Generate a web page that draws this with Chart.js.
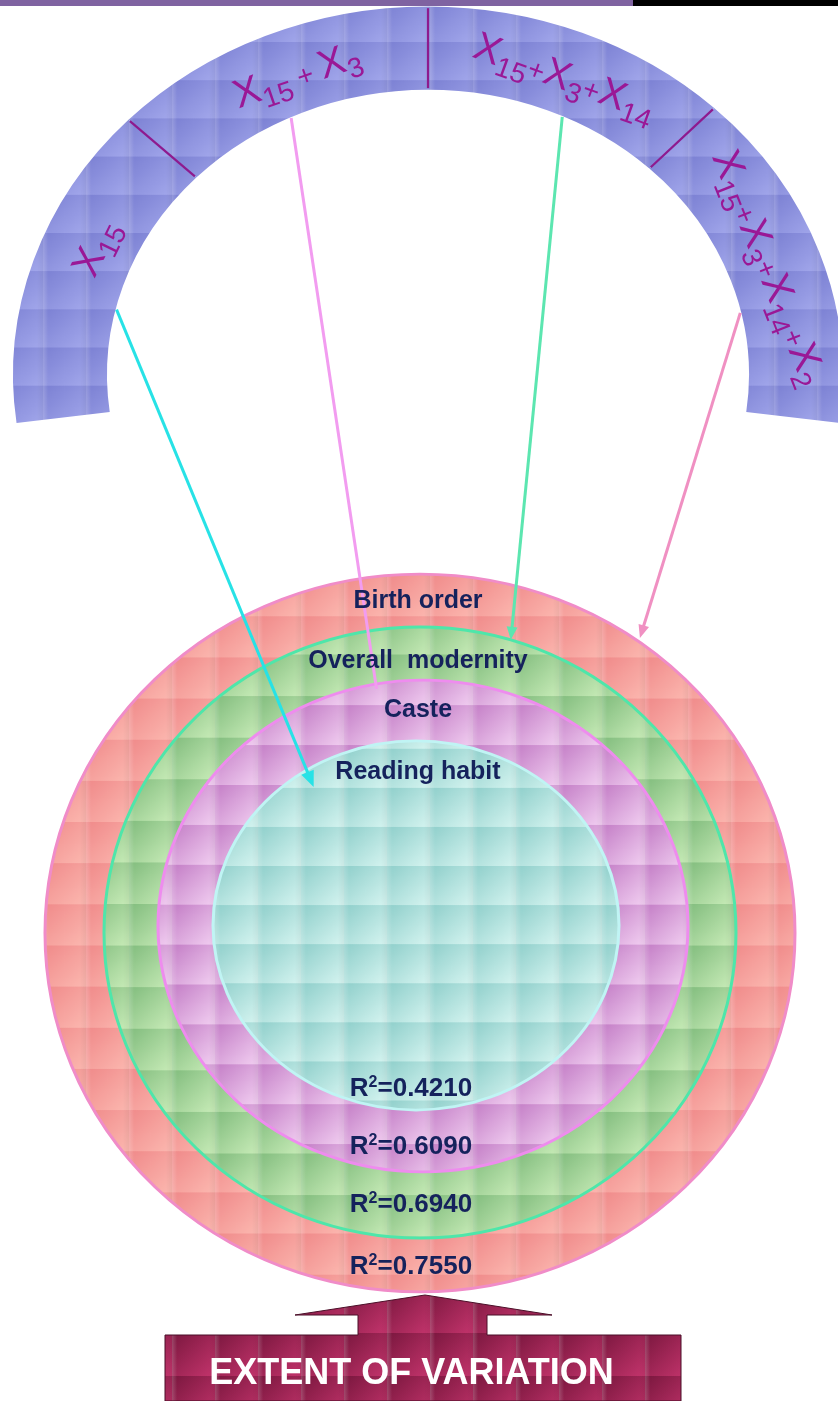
<!DOCTYPE html>
<html>
<head>
<meta charset="utf-8">
<script src="https://cdn.jsdelivr.net/npm/chart.js@4.4.1/dist/chart.umd.min.js"></script>
<style>
  html, body { margin: 0; padding: 0; background: #fff; overflow: hidden; }
  #wrap { position: relative; width: 838px; height: 1401px; }
  #arcChart, #ringChart { position: absolute; left: 0; top: 0; }
  #ringChart { z-index: 2; }
  .strip { position: absolute; top: 0; height: 6px; z-index: 3; }
</style>
</head>
<body>
<div id="wrap">
  <div class="strip" style="left:0;width:633px;background:#7f63a1"></div>
  <div class="strip" style="left:633px;width:205px;background:#000"></div>
  <canvas id="arcChart" width="838" height="450"></canvas>
  <canvas id="ringChart" width="838" height="1401"></canvas>
</div>
<script>
// models shown on the arc, and how many degrees of the arc each one takes
const arcLabels = ['X_{15}', 'X_{15} + X_{3}', 'X_{15}+X_{3}+X_{14}', 'X_{15}+X_{3}+X_{14}+X_{2}'];
const arcSpanDeg = [51.3, 46.2, 43.6, 53.9];

// nested variables and the R² reached at each step
const ringLabels = ['Reading habit', 'Caste', 'Overall  modernity', 'Birth order'];
const ringR2 = [0.4210, 0.6090, 0.6940, 0.7550];
const axisTitle = 'EXTENT OF VARIATION';

// layout only
const ARC = {
  rotation: -97.5, circumference: 195, radius: 415, cutout: '77.35%', squash: 0.888,
  labelPos: 0.42, labelAt: [0.6, 0.54, 0.51, 0.5]
};
const RING = {
  cx: [416, 423, 420, 420],
  cy: [925.5, 926, 932.5, 933],
  rx: [203, 265, 316, 375],
  squash: [0.909, 0.928, 0.967, 0.957],
  nameDy: [31, 30.5, 34, 27],
  r2Dy: [23, 27, 35, 27],
  nameX: 418,
  r2X: 411
};
const LINKS = {
  from: [0.405, 0.452, 0.569, 0.627],
  toAngle: [-33.9, -10.3, 16.7, 35.5],
  toFrac: [0.904, 0.98, 1.0, 1.01],
  color: ['#27e2e6', '#f29cf0', '#5ce6b0', '#f090c2'],
  head: [16, 0, 13, 13]
};
const FONT = '"Liberation Sans", Arial, sans-serif';
const NAVY = '#15225c';

function tile(dark, light) {
  const s = 43;
  const c = document.createElement('canvas');
  c.width = s; c.height = s;
  const g = c.getContext('2d');
  let gr = g.createLinearGradient(0, 0, s, s);
  gr.addColorStop(0, dark);
  gr.addColorStop(1, light);
  g.fillStyle = gr;
  g.fillRect(0, 0, s, s);
  gr = g.createLinearGradient(0, 0, s, 0);
  gr.addColorStop(0, 'rgba(255,255,255,0.2)');
  gr.addColorStop(0.12, 'rgba(255,255,255,0)');
  gr.addColorStop(0.85, 'rgba(0,0,0,0)');
  gr.addColorStop(1, 'rgba(0,0,0,0.05)');
  g.fillStyle = gr;
  g.fillRect(0, 0, s, s);
  return g.createPattern(c, 'repeat');
}

const arcFill = tile('#7b80d3', '#a3a8ec');
const ringFill = [
  tile('#8fcfcb', '#d6f5f1'),
  tile('#c47ec7', '#f2cff2'),
  tile('#82bd7e', '#c8ecb8'),
  tile('#f08a8a', '#fcb8b0')
];
const ringBorder = ['#c0f4f4', '#ee8cee', '#4ee6aa', '#f08cc8'];
const arrowFill = tile('#7a173e', '#c3346c');

function parseRich(str) {
  const parts = [];
  const re = /_\{([^}]*)\}/g;
  let last = 0, m;
  while ((m = re.exec(str))) {
    if (m.index > last) parts.push({ t: str.slice(last, m.index), sub: false });
    parts.push({ t: m[1], sub: true });
    last = re.lastIndex;
  }
  if (last < str.length) parts.push({ t: str.slice(last), sub: false });
  // split plain runs so letters are big and signs are small
  const out = [];
  parts.forEach(p => {
    if (p.sub) { out.push(p); return; }
    for (const ch of p.t) out.push({ t: ch, sub: false, big: /[A-Za-z]/.test(ch) });
  });
  return out;
}

function drawRich(ctx, str, x, y, rot) {
  const parts = parseRich(str);
  const fontOf = p => (p.big ? '40px ' : '28px ') + FONT;
  let w = 0;
  parts.forEach(p => { ctx.font = fontOf(p); p.w = ctx.measureText(p.t).width; w += p.w; });
  ctx.save();
  ctx.translate(x, y);
  ctx.rotate(rot);
  ctx.fillStyle = '#9a1896';
  ctx.textBaseline = 'alphabetic';
  ctx.textAlign = 'left';
  let cx = -w / 2;
  parts.forEach(p => {
    ctx.font = fontOf(p);
    ctx.fillText(p.t, cx, p.sub ? 20 : 11);
    cx += p.w;
  });
  ctx.restore();
}

function onArc(el, angle, r) {
  return [el.x + r * Math.cos(angle), el.y + ARC.squash * r * Math.sin(angle)];
}

const arcDeco = {
  id: 'arcDeco',
  beforeDatasetsDraw(chart) {
    const el = chart.getDatasetMeta(0).data[0];
    const ctx = chart.ctx;
    ctx.save();
    ctx.translate(el.x, el.y);
    ctx.scale(1, ARC.squash);
    ctx.translate(-el.x, -el.y);
  },
  afterDatasetsDraw(chart) {
    const ctx = chart.ctx;
    ctx.restore();
    const arcs = chart.getDatasetMeta(0).data;
    ctx.save();
    ctx.strokeStyle = '#8e1a8e';
    ctx.lineWidth = 2.2;
    for (let i = 1; i < arcs.length; i++) {
      const a = arcs[i].startAngle;
      const p1 = onArc(arcs[i], a, arcs[i].innerRadius + 2);
      const p2 = onArc(arcs[i], a, arcs[i].outerRadius - 2);
      ctx.beginPath();
      ctx.moveTo(p1[0], p1[1]);
      ctx.lineTo(p2[0], p2[1]);
      ctx.stroke();
    }
    arcs.forEach((el, i) => {
      const a = el.startAngle + ARC.labelAt[i] * (el.endAngle - el.startAngle);
      const r = el.innerRadius + ARC.labelPos * (el.outerRadius - el.innerRadius);
      const p = onArc(el, a, r);
      const rot = Math.atan2(ARC.squash * Math.cos(a), -Math.sin(a));
      drawRich(ctx, arcLabels[i], p[0], p[1], rot);
    });
    ctx.restore();
  }
};

const arcChart = new Chart(document.getElementById('arcChart').getContext('2d'), {
  type: 'doughnut',
  data: {
    labels: arcLabels,
    datasets: [{
      data: arcSpanDeg,
      backgroundColor: arcFill,
      borderWidth: 0
    }]
  },
  options: {
    responsive: false,
    animation: false,
    events: [],
    rotation: ARC.rotation,
    circumference: ARC.circumference,
    radius: ARC.radius,
    cutout: ARC.cutout,
    layout: { padding: { left: 18, right: 0, top: 0, bottom: 61 } },
    plugins: { legend: { display: false }, tooltip: { enabled: false } }
  },
  plugins: [arcDeco]
});

function drawArrow(ctx, x1, y1, x2, y2, color, head) {
  const ang = Math.atan2(y2 - y1, x2 - x1);
  ctx.strokeStyle = color;
  ctx.fillStyle = color;
  ctx.lineWidth = 3;
  ctx.beginPath();
  ctx.moveTo(x1, y1);
  ctx.lineTo(x2 - Math.cos(ang) * head * 0.7, y2 - Math.sin(ang) * head * 0.7);
  ctx.stroke();
  if (head) {
    const bx = x2 - Math.cos(ang) * head, by = y2 - Math.sin(ang) * head;
    const nx = -Math.sin(ang) * head * 0.42, ny = Math.cos(ang) * head * 0.42;
    ctx.beginPath();
    ctx.moveTo(x2, y2);
    ctx.lineTo(bx + nx, by + ny);
    ctx.lineTo(bx - nx, by - ny);
    ctx.closePath();
    ctx.fill();
  }
}

const ringDeco = {
  id: 'ringDeco',
  beforeDatasetDraw(chart, args) {
    const el = args.meta.data[0];
    const ctx = chart.ctx;
    ctx.save();
    ctx.translate(el.x, el.y);
    ctx.scale(1, RING.squash[args.index]);
    ctx.translate(-el.x, -el.y);
  },
  afterDatasetDraw(chart) {
    chart.ctx.restore();
  },
  afterDatasetsDraw(chart) {
    const ctx = chart.ctx;
    const xs = chart.scales.x, ys = chart.scales.y;
    const px = v => xs.getPixelForValue(v);
    const py = v => ys.getPixelForValue(v);
    const arcs = arcChart.getDatasetMeta(0).data;
    ctx.save();

    // links from the arc models to the nested variables
    ringLabels.forEach((_, i) => {
      const arc = arcs[i];
      const a = arc.startAngle + LINKS.from[i] * (arc.endAngle - arc.startAngle);
      const s = onArc(arc, a, arc.innerRadius - 1);
      const el = chart.getDatasetMeta(i).data[0];
      const t = LINKS.toAngle[i] * Math.PI / 180;
      const r = el.options.radius * LINKS.toFrac[i];
      const ex = el.x + r * Math.sin(t);
      const ey = el.y - r * RING.squash[i] * Math.cos(t);
      drawArrow(ctx, s[0], s[1], ex, ey, LINKS.color[i], LINKS.head[i]);
    });

    // variable names at the top of each ring, R² at the bottom
    ctx.fillStyle = NAVY;
    ctx.textAlign = 'center';
    ctx.textBaseline = 'middle';
    ringLabels.forEach((name, i) => {
      const el = chart.getDatasetMeta(i).data[0];
      const ry = el.options.radius * RING.squash[i];
      ctx.font = 'bold 25px ' + FONT;
      ctx.textAlign = 'center';
      ctx.fillText(name, px(RING.nameX), el.y - ry + RING.nameDy[i]);

      const yb = el.y + ry - RING.r2Dy[i] + 9;
      const tail = '=' + ringR2[i].toFixed(4);
      ctx.font = 'bold 26px ' + FONT;
      const wR = ctx.measureText('R').width, wT = ctx.measureText(tail).width;
      ctx.font = 'bold 16px ' + FONT;
      const w2 = ctx.measureText('2').width;
      let x0 = px(RING.r2X) - (wR + w2 + wT) / 2;
      ctx.textAlign = 'left';
      ctx.textBaseline = 'alphabetic';
      ctx.font = 'bold 26px ' + FONT;
      ctx.fillText('R', x0, yb);
      ctx.font = 'bold 16px ' + FONT;
      ctx.fillText('2', x0 + wR, yb - 9);
      ctx.font = 'bold 26px ' + FONT;
      ctx.fillText(tail, x0 + wR + w2, yb);
      ctx.textBaseline = 'middle';
    });

    // big arrow with the axis title
    const shape = [[165, 1335], [358, 1335], [358, 1315], [295, 1315], [425, 1295], [552, 1315],
      [487, 1315], [487, 1335], [681, 1335], [681, 1401], [165, 1401]];
    ctx.beginPath();
    shape.forEach((p, k) => k ? ctx.lineTo(px(p[0]), py(p[1])) : ctx.moveTo(px(p[0]), py(p[1])));
    ctx.closePath();
    ctx.fillStyle = arrowFill;
    ctx.fill();
    ctx.strokeStyle = '#4a0f28';
    ctx.lineWidth = 1;
    ctx.stroke();
    ctx.fillStyle = '#ffffff';
    ctx.font = 'bold 36px ' + FONT;
    ctx.textAlign = 'center';
    ctx.textBaseline = 'middle';
    ctx.fillText(axisTitle, px(411.5), py(1374));
    ctx.restore();
  }
};

new Chart(document.getElementById('ringChart').getContext('2d'), {
  type: 'bubble',
  data: {
    datasets: ringLabels.map((name, i) => ({
      label: name,
      data: [{ x: RING.cx[i], y: RING.cy[i], r: RING.rx[i] }],
      backgroundColor: ringFill[i],
      borderColor: ringBorder[i],
      borderWidth: 3,
      clip: false
    }))
  },
  options: {
    responsive: false,
    animation: false,
    events: [],
    layout: { padding: 0, autoPadding: false },
    scales: {
      x: { type: 'linear', min: 0, max: 838, display: false },
      y: { type: 'linear', min: 0, max: 1401, reverse: true, display: false }
    },
    plugins: { legend: { display: false }, tooltip: { enabled: false } }
  },
  plugins: [ringDeco]
});
</script>
</body>
</html>
